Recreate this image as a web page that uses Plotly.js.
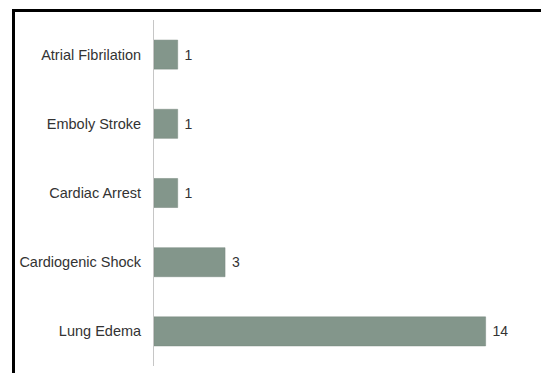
<!DOCTYPE html>
<html>
<head>
<meta charset="utf-8">
<script src="https://cdn.plot.ly/plotly-3.0.1.min.js"></script>
<style>
  html, body { margin: 0; padding: 0; background: #ffffff; }
  #wrap { position: relative; width: 541px; height: 373px; overflow: hidden; }
  #chart { position: absolute; left: 0; top: 0; width: 541px; height: 373px; }
  #frame { position: absolute; left: 12px; top: 9px; width: 529px; height: 364px;
           border-top: 3px solid #000; border-left: 3px solid #000; box-sizing: border-box;
           pointer-events: none; }
</style>
</head>
<body>
<div id="wrap">
  <div id="chart"></div>
  <div id="frame"></div>
</div>
<script>
  var categories = ["Atrial Fibrilation", "Emboly Stroke", "Cardiac Arrest", "Cardiogenic Shock", "Lung Edema"];
  var counts = [1, 1, 1, 3, 14];

  var FONT = "Liberation Sans, Arial, sans-serif";

  var trace = {
    type: "bar",
    orientation: "h",
    y: categories,
    x: counts,
    text: counts.map(function (v) { return " " + v; }),
    textposition: "outside",
    cliponaxis: false,
    textfont: { family: FONT, size: 14, color: "#333333" },
    marker: { color: "#83968b", line: { color: "#78897f", width: 0.5 } },
    hoverinfo: "none"
  };

  var layout = {
    width: 541,
    height: 373,
    margin: { l: 154, r: 8, t: 20, b: 7, pad: 0 },
    paper_bgcolor: "#ffffff",
    plot_bgcolor: "#ffffff",
    showlegend: false,
    bargap: 0.58,
    font: { family: FONT, size: 14, color: "#333333" },
    xaxis: {
      range: [0, 16],
      showgrid: false,
      zeroline: false,
      showline: false,
      showticklabels: false,
      ticks: ""
    },
    yaxis: {
      type: "category",
      autorange: "reversed",
      showgrid: false,
      zeroline: false,
      showline: true,
      linecolor: "#c6c6c6",
      linewidth: 1,
      ticks: "",
      ticklabelstandoff: 9,
      tickfont: { family: FONT, size: 14.5, color: "#333333" }
    }
  };

  Plotly.newPlot("chart", [trace], layout, { displayModeBar: false, staticPlot: true });
</script>
</body>
</html>
